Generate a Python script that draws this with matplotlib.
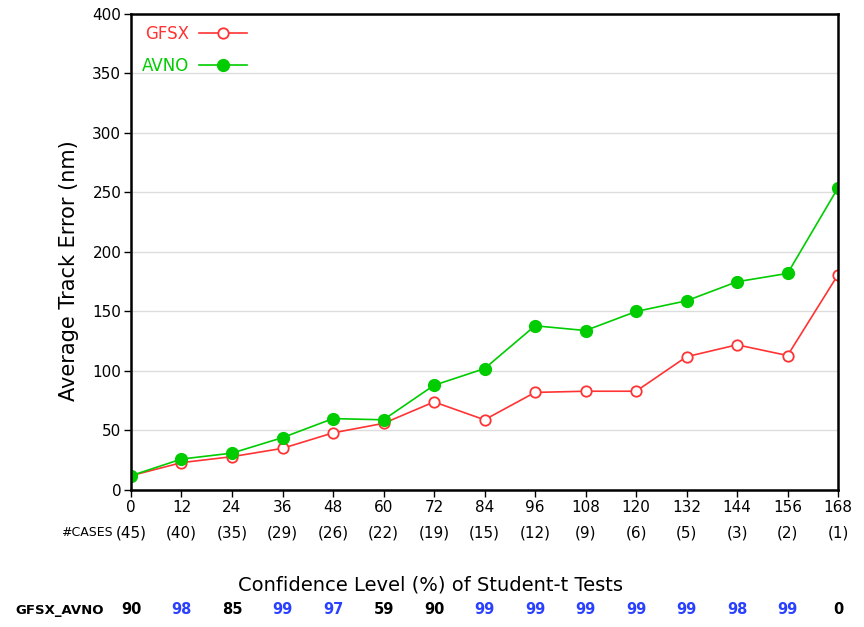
import matplotlib.pyplot as plt

# forecast hours and track errors (nm)
hours = [0, 12, 24, 36, 48, 60, 72, 84, 96, 108, 120, 132, 144, 156, 168]
gfsx = [12, 23, 28, 35, 48, 56, 74, 59, 82, 83, 83, 112, 122, 113, 181]
avno = [12, 26, 31, 44, 60, 59, 88, 102, 138, 134, 150, 159, 175, 182, 254]
cases = [45, 40, 35, 29, 26, 22, 19, 15, 12, 9, 6, 5, 3, 2, 1]
confidence = [90, 98, 85, 99, 97, 59, 90, 99, 99, 99, 99, 99, 98, 99, 0]

RED = '#ff3333'
GREEN = '#00cc00'
BLUE = '#2a40ff'

fig = plt.figure(figsize=(8.64, 6.27), dpi=100)
ax = fig.add_axes([0.1516, 0.2185, 0.8184, 0.7592])

ax.plot(hours, gfsx, color=RED, lw=1.2, marker='o', ms=7.5, mfc='white',
        mec=RED, mew=1.3, label='GFSX')
ax.plot(hours, avno, color=GREEN, lw=1.2, marker='o', ms=8.5, mfc=GREEN,
        mec=GREEN, label='AVNO')

ax.set_xlim(0, 168)
ax.set_ylim(0, 400)
ax.set_xticks(hours)
ax.set_yticks(range(0, 401, 50))
ax.tick_params(labelsize=11, direction='out', length=5, width=1, pad=2)
ax.yaxis.grid(True, color='#dddddd', lw=1)
ax.set_axisbelow(True)
for s in ax.spines.values():
    s.set_linewidth(1.8)

ax.set_ylabel('Average Track Error (nm)', fontsize=15)
ax.yaxis.set_label_coords(-0.073, 0.46)

leg = ax.legend(loc='upper left', markerfirst=False, frameon=False,
                fontsize=12, handlelength=2.9, handletextpad=0.6,
                labelspacing=0.85, borderaxespad=0.25)
for txt, c in zip(leg.get_texts(), [RED, GREEN]):
    txt.set_color(c)

# number of cases under each tick
trans = ax.get_xaxis_transform()
for h, n in zip(hours, cases):
    ax.text(h, -0.09, f'({n})', transform=trans, ha='center', va='center',
            fontsize=11)
ax.text(-4.3, -0.09, '#CASES', transform=trans, ha='right', va='center',
        fontsize=9)

fig.text(0.498, 0.067, 'Confidence Level (%) of Student-t Tests',
         ha='center', va='center', fontsize=14)

# significance row, blue where >= 95%
for h, c in zip(hours, confidence):
    ax.text(h, -0.252, str(c), transform=trans, ha='center', va='center',
            fontsize=10.5, fontweight='bold',
            color=BLUE if c >= 95 else 'black')
fig.text(0.018, 0.027, 'GFSX_AVNO', ha='left', va='center', fontsize=9.5,
         fontweight='bold')

fig.savefig('out.png', dpi=100)
